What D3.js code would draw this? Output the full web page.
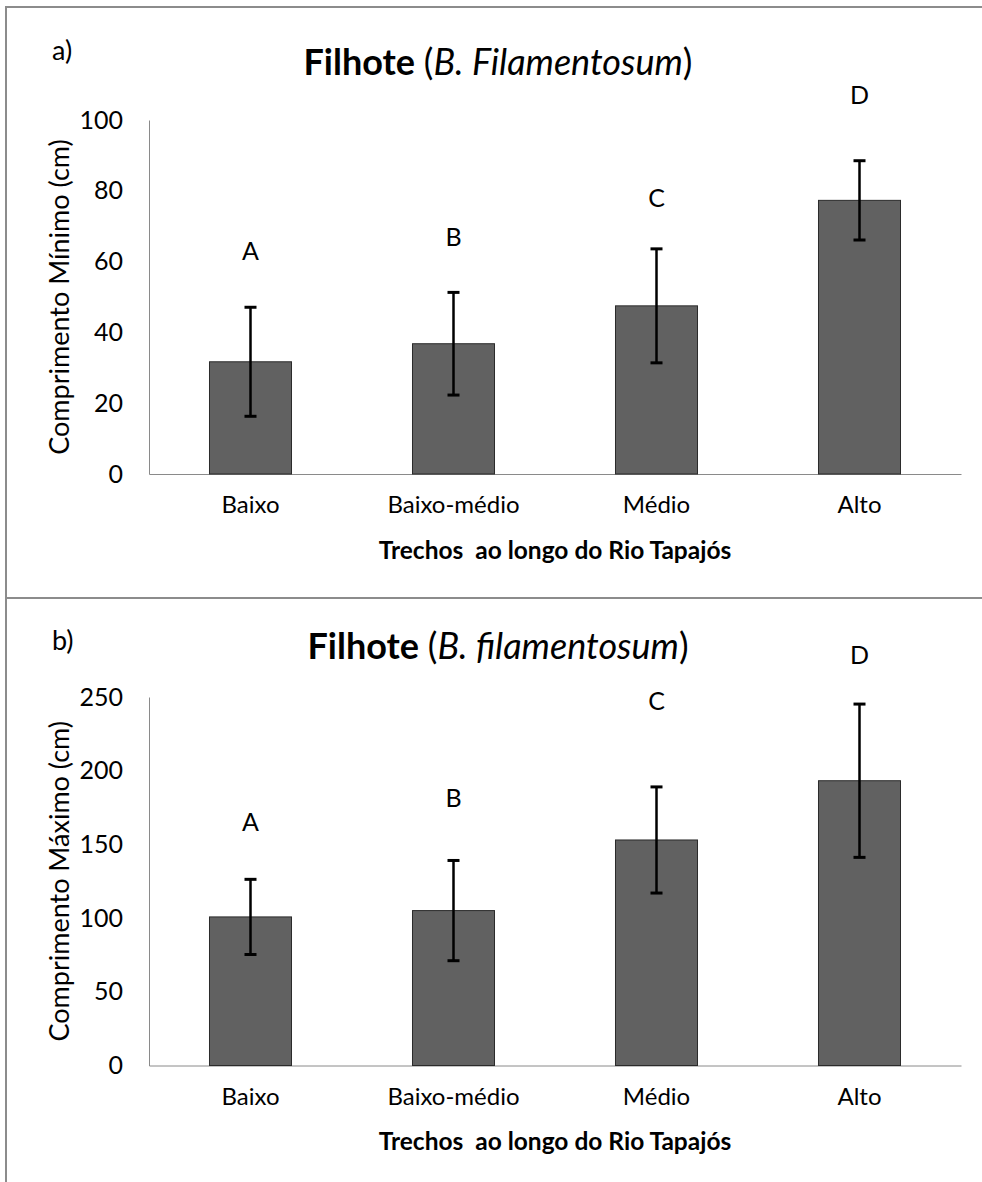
<!DOCTYPE html>
<html>
<head>
<meta charset="utf-8">
<script src="https://cdnjs.cloudflare.com/ajax/libs/d3/7.8.5/d3.min.js"></script>
<style>
  body { margin: 0; background: #fff; }
  svg text { font-family: Lato, "Noto Sans", sans-serif; fill: #000; }
</style>
</head>
<body>
<div id="chart"></div>
<script>
// data
var categories = ['Baixo', 'Baixo-médio', 'Médio', 'Alto'];
var letters = ['A', 'B', 'C', 'D'];

var minMeans = [31.7, 36.8, 47.5, 77.3];
var minErrors = [15.4, 14.5, 16.1, 11.2];
var minLetterLevels = [63, 67, 78, 107];
var minTicks = [0, 20, 40, 60, 80, 100];

var maxMeans = [100.8, 105.1, 153.0, 193.2];
var maxErrors = [25.5, 34.0, 36.0, 52.0];
var maxLetterLevels = [165, 181, 247, 278];
var maxTicks = [0, 50, 100, 150, 200, 250];

var svg = d3.select('#chart')
  .append('svg')
  .attr('width', 982)
  .attr('height', 1182);

// frame lines
var frame = svg.append('g').attr('stroke', '#8c8c8c').attr('stroke-width', 2);
frame.append('line').attr('x1', 6).attr('x2', 982).attr('y1', 7).attr('y2', 7);
frame.append('line').attr('x1', 6).attr('x2', 6).attr('y1', 6).attr('y2', 1182);
frame.append('line').attr('x1', 6).attr('x2', 982).attr('y1', 598).attr('y2', 598);

function drawPanel(opt) {
  var left = 149, right = 961;
  var g = svg.append('g');

  var x = d3.scaleBand()
    .domain(categories)
    .range([left, right])
    .paddingInner(0.596)
    .paddingOuter(0.298);

  var y = d3.scaleLinear()
    .domain([0, d3.max(opt.ticks)])
    .range([opt.bottom, opt.top]);

  var rows = categories.map(function(c, i) {
    return {cat: c, mean: opt.means[i], err: opt.errors[i], letter: letters[i], level: opt.levels[i]};
  });

  // panel tag + title
  g.append('text')
    .attr('x', 52).attr('y', opt.tagY)
    .style('font-size', '27px')
    .text(opt.tag);

  var title = g.append('text')
    .attr('x', 498).attr('y', opt.titleY)
    .attr('text-anchor', 'middle')
    .style('font-size', '36px');
  title.append('tspan').style('font-weight', 'bold').text('Filhote ');
  title.append('tspan').text('(');
  title.append('tspan').style('font-style', 'italic').text(opt.species);
  title.append('tspan').text(')');

  // y axis
  var yAxis = g.append('g')
    .attr('transform', 'translate(' + left + ',0)')
    .call(d3.axisLeft(y).tickValues(opt.ticks).tickSize(0).tickPadding(26));
  yAxis.select('.domain').attr('stroke', '#8a8a8a');
  yAxis.selectAll('text').style('font-size', '25px').attr('fill', '#000');

  // x axis
  var xAxis = g.append('g')
    .attr('transform', 'translate(0,' + opt.bottom + ')')
    .call(d3.axisBottom(x).tickSize(0).tickPadding(22));
  xAxis.select('.domain').attr('stroke', '#8a8a8a');
  xAxis.selectAll('text').style('font-size', '24px').attr('fill', '#000');

  // bars
  g.selectAll('.bar')
    .data(rows)
    .enter().append('rect')
    .attr('class', 'bar')
    .attr('x', function(d) { return x(d.cat); })
    .attr('width', x.bandwidth())
    .attr('y', function(d) { return y(d.mean); })
    .attr('height', function(d) { return y(0) - y(d.mean); })
    .attr('fill', '#616161')
    .attr('stroke', '#2b2b2b')
    .attr('stroke-width', 1);

  // error bars
  var eb = g.selectAll('.err')
    .data(rows)
    .enter().append('g')
    .attr('class', 'err')
    .attr('stroke', '#000')
    .attr('stroke-width', 2.5);
  eb.append('line')
    .attr('x1', function(d) { return x(d.cat) + x.bandwidth() / 2; })
    .attr('x2', function(d) { return x(d.cat) + x.bandwidth() / 2; })
    .attr('y1', function(d) { return y(d.mean + d.err); })
    .attr('y2', function(d) { return y(d.mean - d.err); });
  [1, -1].forEach(function(s) {
    eb.append('line')
      .attr('stroke-width', 3)
      .attr('x1', function(d) { return x(d.cat) + x.bandwidth() / 2 - 6; })
      .attr('x2', function(d) { return x(d.cat) + x.bandwidth() / 2 + 6; })
      .attr('y1', function(d) { return y(d.mean + s * d.err); })
      .attr('y2', function(d) { return y(d.mean + s * d.err); });
  });

  // significance letters
  g.selectAll('.letter')
    .data(rows)
    .enter().append('text')
    .attr('class', 'letter')
    .attr('x', function(d) { return x(d.cat) + x.bandwidth() / 2; })
    .attr('y', function(d) { return y(d.level); })
    .attr('dy', '0.35em')
    .attr('text-anchor', 'middle')
    .style('font-size', '25px')
    .text(function(d) { return d.letter; });

  // axis titles
  g.append('text')
    .attr('transform', 'translate(60,' + ((opt.top + opt.bottom) / 2) + ') rotate(-90)')
    .attr('text-anchor', 'middle')
    .attr('dy', '0.35em')
    .style('font-size', '27px')
    .text(opt.yTitle);

  g.append('text')
    .attr('x', 555).attr('y', opt.bottom + 76)
    .attr('dy', '0.35em')
    .attr('text-anchor', 'middle')
    .style('font-size', '24.5px')
    .style('font-weight', 'bold')
    .style('white-space', 'pre')
    .text('Trechos  ao longo do Rio Tapajós');
}

drawPanel({
  tag: 'a)', tagY: 60, titleY: 75, species: 'B. Filamentosum',
  top: 120, bottom: 474, ticks: minTicks,
  means: minMeans, errors: minErrors, levels: minLetterLevels,
  yTitle: 'Comprimento Mínimo  (cm)'
});

drawPanel({
  tag: 'b)', tagY: 650, titleY: 659, species: 'B. filamentosum',
  top: 697, bottom: 1065.5, ticks: maxTicks,
  means: maxMeans, errors: maxErrors, levels: maxLetterLevels,
  yTitle: 'Comprimento Máximo (cm)'
});
</script>
</body>
</html>
